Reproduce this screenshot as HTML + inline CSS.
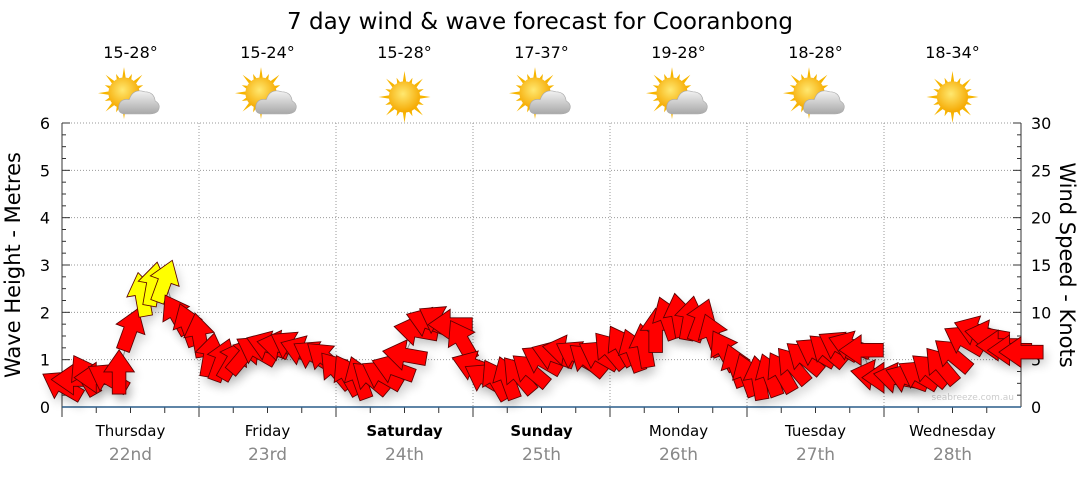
<!DOCTYPE html>
<html><head><meta charset="utf-8"><style>
body{margin:0;background:#fff;width:1080px;height:475px;overflow:hidden;font-family:"DejaVu Sans","Liberation Sans",sans-serif}
</style></head><body>
<svg id="c" width="1080" height="475" xmlns="http://www.w3.org/2000/svg" font-family="DejaVu Sans, Liberation Sans, sans-serif">
<defs>
<radialGradient id="sun" cx="0.45" cy="0.4" r="0.6"><stop offset="0" stop-color="#ffe870"/><stop offset="1" stop-color="#f5a800"/></radialGradient>
<linearGradient id="cl" x1="0" y1="0" x2="0" y2="1"><stop offset="0" stop-color="#f2f2f2"/><stop offset="1" stop-color="#a8a8a8"/></linearGradient>
<filter id="sh" x="-50%" y="-50%" width="200%" height="200%"><feGaussianBlur stdDeviation="3"/></filter>
</defs>
<text x="540" y="29" font-size="23" text-anchor="middle" fill="#000">7 day wind &amp; wave forecast for Cooranbong</text>
<g id="g"></g>
</svg>
<script>
const days=["Thursday","Friday","Saturday","Sunday","Monday","Tuesday","Wednesday"];
const dates=["22nd","23rd","24th","25th","26th","27th","28th"];
const temps=["15-28°","15-24°","15-28°","17-37°","19-28°","18-28°","18-34°"];
const cloudy=[1,1,0,1,1,1,0];
const yTicks=[0,1,2,3,4,5,6];
const y2Ticks=[0,5,10,15,20,25,30];
// wind speed in knots, every 2 hours
const windSpeed=[2.3,2.9,3.4,3.1,3.1,3.7,8.2,11.9,13.0,13.3,9.8,8.7,
7.6,5.5,5.0,5.0,5.5,6.0,6.5,6.5,6.5,6.0,5.5,5.2,
3.9,3.4,3.1,3.1,3.4,4.1,5.5,8.1,9.0,9.2,8.7,7.1,
4.4,3.1,2.9,3.1,3.4,3.9,5.0,5.5,6.0,5.5,5.0,5.5,
6.0,6.5,6.0,6.5,8.1,9.4,9.7,9.4,9.2,7.6,6.0,4.4,
3.4,3.1,3.4,3.7,4.4,5.2,5.8,6.0,6.5,6.5,6.0,3.4,
3.1,3.1,3.1,3.4,3.9,4.4,5.5,7.1,8.1,7.6,6.5,6.0,5.8];
// arrow pointing direction in degrees (0 = up, clockwise)
const windDir=[-60,-90,-30,-90,-60,0,20,-10,10,20,-30,-20,
-10,10,20,30,40,-60,-70,-80,-60,-70,-60,-50,
-40,-30,-20,-50,-60,-70,-80,-80,-70,-60,-90,-30,
-70,-60,-30,-20,-40,-50,-60,-70,-80,-60,-50,-60,
-40,-30,-20,-10,0,-20,-10,10,20,-20,-30,-20,
-20,-10,-20,-30,-40,-50,-60,-50,-60,-70,-90,-80,
-90,-80,-70,-60,-50,-40,-50,-60,-70,-80,-90,-90,-90];
const g=document.getElementById('g');
const NS='http://www.w3.org/2000/svg';
const X0=62,X1=1021,Y0=407,Y6=123;
const ys=v=>Y0-(Y0-Y6)*v/6, ys2=k=>Y0-(Y0-Y6)*k/30;
const dw=(X1-X0)/7;
const xs=i=>X0+i*dw/12;
function el(t,a,p){const e=document.createElementNS(NS,t);for(const k in a)e.setAttribute(k,a[k]);(p||g).appendChild(e);return e;}
yTicks.forEach(v=>{
 if(v>0){const l=el('line',{x1:X0,x2:X1,y1:ys(v),y2:ys(v),stroke:'#999','stroke-dasharray':'1,2'});
 
 }
 const t=el('text',{x:X0-12,y:ys(v)+6,'font-size':16,'text-anchor':'end',fill:'#000'});t.textContent=v;
 
 
});
y2Ticks.forEach(k=>{const t=el('text',{x:X1+10,y:ys2(k)+6,'font-size':16,fill:'#000'});t.textContent=k;
 
 });
for(let q=0;q<=24;q++){const y=Y0-(Y0-Y6)*q/24;const L=q%4==0?8:4;
 el('line',{x1:X0,x2:X0+L,y1:y,y2:y,stroke:'#333'});el('line',{x1:X1,x2:X1-L,y1:y,y2:y,stroke:'#333'});}
el('line',{x1:X0,x2:X0,y1:Y6,y2:Y0,stroke:'#333'});el('line',{x1:X1,x2:X1,y1:Y6,y2:Y0,stroke:'#333'});
for(let d=0;d<7;d++){
 const x=X0+d*dw;
 if(d>0){const l=el('line',{x1:x,x2:x,y1:Y6,y2:Y0,stroke:'#999','stroke-dasharray':'1,2'});
 }
 for(let h=0;h<4;h++){const tx=x+h*dw/4;el('line',{x1:tx,x2:tx,y1:Y0,y2:Y0+(h==0?10:6),stroke:'#333'});}
 const cx=x+dw/2;
 const dn=el('text',{x:cx,y:436,'font-size':15,'text-anchor':'middle','font-weight':(d==2||d==3)?'bold':'normal'});dn.textContent=days[d];
 
 const dt=el('text',{x:cx,y:460,'font-size':17,'text-anchor':'middle',fill:'#888'});dt.textContent=dates[d];
 
 const tt=el('text',{x:cx,y:58,'font-size':16,'text-anchor':'middle'});tt.textContent=temps[d];
 
 const ic=el('g',{transform:`translate(${cx},97) scale(1.3)`});
 
 const sx=cloudy[d]?-5:0,sy=cloudy[d]?-3:0;
 for(let r=0;r<16;r++){const a=r*Math.PI/8,L=r%2?16:20;
  el('polygon',{points:`${sx+Math.cos(a-0.13)*11},${sy+Math.sin(a-0.13)*11} ${sx+Math.cos(a)*L},${sy+Math.sin(a)*L} ${sx+Math.cos(a+0.13)*11},${sy+Math.sin(a+0.13)*11}`,fill:'#f7b500'},ic);}
 el('circle',{cx:sx,cy:sy,r:12,fill:'url(#sun)'},ic);
 if(cloudy[d]){el('path',{d:'M-4 13 Q-10 13 -9 7 Q-8 1 -1 2 Q2 -7 11 -4 Q18 -4 19 3 Q24 6 21 11 Q19 13 15 13 Z',fill:'url(#cl)',stroke:'#aaa','stroke-width':0.5},ic);}
}
el('line',{x1:X0,x2:X1,y1:Y0,y2:Y0,stroke:'#2a5d8a','stroke-width':1.5});
const wm=el('text',{x:1014,y:400,'font-size':9,'text-anchor':'end',fill:'#ccc'});wm.textContent='seabreeze.com.au';
const a1=el('text',{transform:'translate(20,265) rotate(-90)','font-size':21,'text-anchor':'middle'});a1.textContent='Wave Height - Metres';

const a2=el('text',{transform:'translate(1060,265) rotate(90)','font-size':21,'text-anchor':'middle'});a2.textContent='Wind Speed - Knots';

let pts=windSpeed.map((k,i)=>xs(i)+','+ys2(k)).join(' ');
el('polyline',{points:pts,fill:'none',stroke:'#999','stroke-width':1});
const arrow='M-4 13 L-4 0 L-9 0 L0 -13 L9 0 L4 0 L4 13 Z';
windSpeed.forEach((k,i)=>{
 el('path',{d:arrow,fill:'#000',opacity:0.18,filter:'url(#sh)',transform:`translate(${xs(i)+3},${ys2(k)+6}) rotate(${windDir[i]}) scale(1.7)`});
});
windSpeed.forEach((k,i)=>{
 const p=el('path',{d:arrow,fill:k>=11.5?'#ffff00':'#ff0000',stroke:'#5a0000','stroke-width':0.5,transform:`translate(${xs(i)},${ys2(k)}) rotate(${windDir[i]}) scale(1.7)`});
 
 
});
</script>
</body></html>
